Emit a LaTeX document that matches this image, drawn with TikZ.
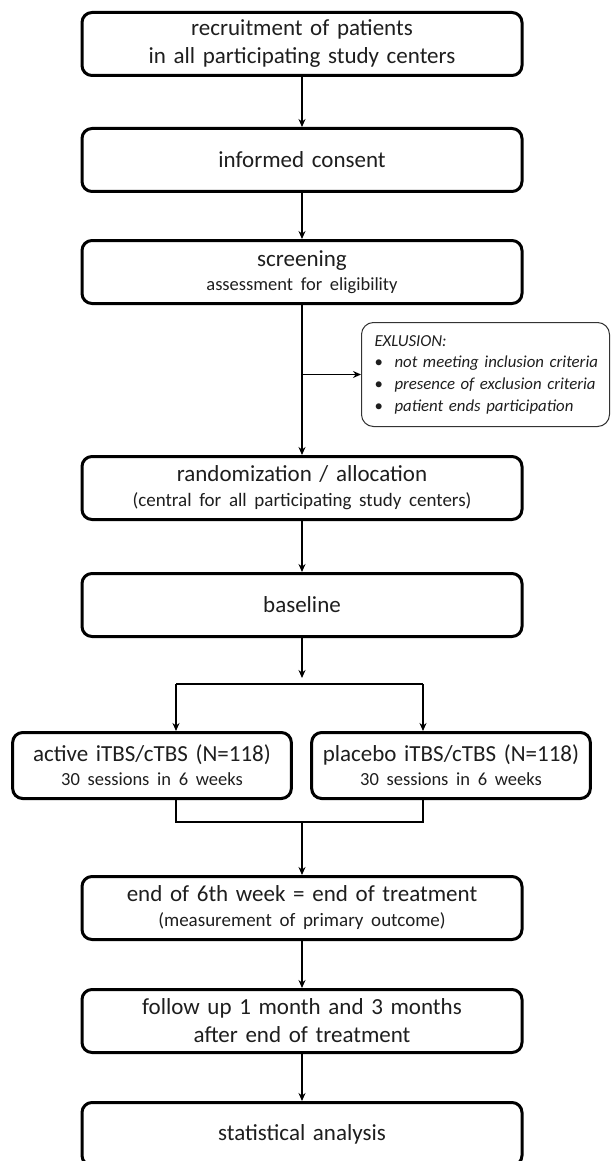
\documentclass[tikz,border=0pt]{standalone}
\usepackage{fontspec}
\setmainfont{Carlito}
\usetikzlibrary{arrows.meta, positioning}
\definecolor{TextoGris}{HTML}{1E1E1E}
\newcommand{\subtexto}[1]{{\fontsize{18.5}{21}\selectfont #1}}
\newcommand{\parentexto}[1]{{\fontsize{19}{23}\selectfont #1}}
\newcommand{\vineta}[1]{\mbox{\makebox[20pt][l]{\upshape\textbullet}#1}}

\begin{document}
\begin{tikzpicture}[
        x=1pt, y=1pt,
        node distance=48pt,
        % Estilos para cajas principales
        mainbox/.style={
                rectangle,
                rounded corners=10pt,
                minimum width=440pt,
                minimum height=63pt,
                text centered,
                text width=430pt,
                font=\fontsize{23}{28}\selectfont,
                text=TextoGris,
                fill=white,
                draw=black,
                line width=3pt
            },
        % Estilos para los dos brazos
        armbox/.style={
                mainbox,
                minimum width=278pt,
                minimum height=66pt,
                text width=272pt
            },
        % Caja de exclusion
        exclbox/.style={
                rectangle,
                rounded corners=12pt,
                minimum height=104pt,
                text width=222pt,
                inner xsep=13pt,
                align=left,
                font=\fontsize{16.8}{21.7}\selectfont\itshape,
                text=TextoGris,
                draw=black!80,
                line width=1pt
            },
        % Flechas
        arrow/.style={
                -{Stealth[length=8pt,width=7pt]},
                line width=1.5pt
            },
        line/.style={
                line width=1.5pt
            }
    ]

    \useasboundingbox (0,0) rectangle (611,-1161);

    % Cajas principales
    \node[mainbox] at (302,-44) (reclutamiento) {recruitment of patients\\in all participating study centers};
    \node[mainbox, below=50pt of reclutamiento] (consentimiento) {informed consent};
    \node[mainbox, below=46pt of consentimiento] (cribado) {screening\\[-4pt]\subtexto{assessment for eligibility}};
    \node[mainbox, below=150pt of cribado] (aleatorizacion) {randomization / allocation\\[-3pt]\parentexto{(central for all participating study centers)}};
    \node[mainbox, below=51pt of aleatorizacion] (basal) {baseline};

    % Brazos
    \node[armbox, below=93pt of basal, xshift=-150pt] (activo) {active iTBS/cTBS (N=118)\\[-4pt]\subtexto{30 sessions in 6 weeks}};
    \node[armbox, below=93pt of basal, xshift=149pt] (placebo) {placebo iTBS/cTBS (N=118)\\[-4pt]\subtexto{30 sessions in 6 weeks}};

    \node[mainbox, below=237pt of basal] (fin) {end of 6th week = end of treatment\\[-3pt]\parentexto{(measurement of primary outcome)}};
    \node[mainbox, below=47pt of fin] (seguimiento) {follow up 1 month and 3 months\\after end of treatment};
    \node[mainbox, below=47pt of seguimiento] (analisis) {statistical analysis};

    % Exclusion
    \node[exclbox, anchor=west] at (361,-374.5) (exclusion) {EXLUSION:\\
        \vineta{not meeting inclusion criteria}\\
        \vineta{presence of exclusion criteria}\\
        \vineta{patient ends participation}};

    % Puntos de union
    \coordinate (splitL) at (176,-684);
    \coordinate (splitR) at (423,-684);
    \coordinate (joinL) at (176,-822);
    \coordinate (joinR) at (423,-822);

    % Flechas
    \draw[arrow] (reclutamiento) -- (consentimiento);
    \draw[arrow] (consentimiento) -- (cribado);
    \draw[arrow] (cribado) -- (aleatorizacion);
    \draw[arrow] (cribado.south |- exclusion.west) -- (exclusion.west);
    \draw[arrow] (aleatorizacion) -- (basal);
    \draw[arrow, shorten >=6pt] (basal) -- (basal.south |- splitL);
    \draw[line] (splitL) -- (splitR);
    \draw[arrow] (splitL) -- (splitL |- activo.north);
    \draw[arrow] (splitR) -- (splitR |- placebo.north);
    \draw[line] (splitL |- activo.south) -- (joinL) -- (joinR) -- (splitR |- placebo.south);
    \draw[arrow] (basal.south |- joinL) -- (fin);
    \draw[arrow] (fin) -- (seguimiento);
    \draw[arrow] (seguimiento) -- (analisis);

\end{tikzpicture}
\end{document}
